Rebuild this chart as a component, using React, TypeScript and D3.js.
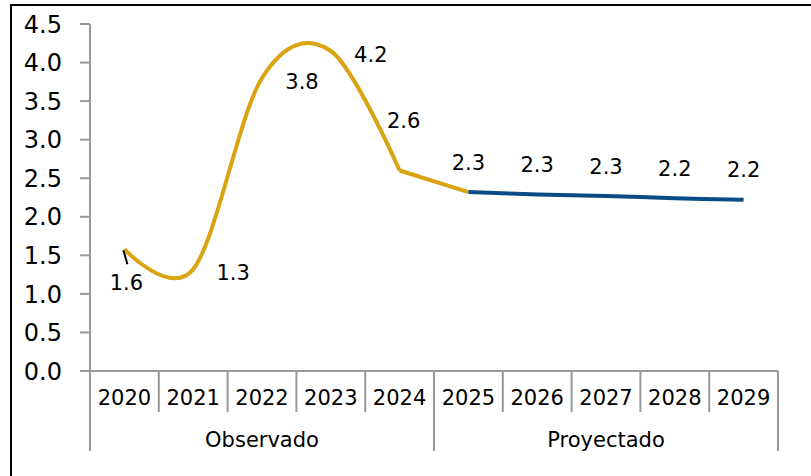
import React from 'react';
import * as d3 from 'd3';

const years = ['2020', '2021', '2022', '2023', '2024', '2025', '2026', '2027', '2028', '2029'];
const values = [1.58, 1.32, 3.8, 4.15, 2.6, 2.32, 2.29, 2.27, 2.24, 2.22];
const groups = [
  { name: 'Observado', from: '2020', to: '2024' },
  { name: 'Proyectado', from: '2025', to: '2029' },
];
// where each data label sits relative to its point
const labelSpots = ['below', 'right', 'right', 'right', 'high', 'above', 'above', 'above', 'above', 'above'];
const yTicks = d3.range(0, 4.51, 0.5);

const W = 811;
const H = 476;
const gold = '#D9A312';
const blue = '#0B4C86';
const grey = '#999999';
const font = '"DejaVu Sans", Verdana, sans-serif';

const App = () => {
  const x = d3.scaleBand().domain(years).range([90, 778]);
  const y = d3.scaleLinear().domain([0, 4.5]).range([371, 24]);
  const cx = (yr: string) => (x(yr) as number) + x.bandwidth() / 2;
  const fmt = d3.format('.1f');

  const pts = years.map((yr, i) => ({ yr, v: values[i] }));
  const line = d3.line<{ yr: string; v: number }>()
    .x(d => cx(d.yr))
    .y(d => y(d.v))
    .curve(d3.curveCardinal.tension(0));
  const straight = d3.line<{ yr: string; v: number }>()
    .x(d => cx(d.yr))
    .y(d => y(d.v));

  const observed = pts.slice(0, 5);
  const bridge = pts.slice(4, 6);
  const projected = pts.slice(5);

  const labelPos = (i: number) => {
    const px = cx(years[i]);
    const py = y(values[i]);
    switch (labelSpots[i]) {
      case 'below': return [px + 2, py + 33];
      case 'right': return [px + 40, py + 3];
      case 'high': return [px + 4, py - 50];
      default: return [px, py - 30];
    }
  };

  const axisBottom = y(0);
  const bandEdges = d3.range(years.length + 1).map(k => 90 + k * x.bandwidth());

  return (
    <svg width={W} height={H} style={{ position: 'fixed', left: 0, top: 0, background: '#fff' }}
      fontFamily={font}>
      <rect x={11} y={5} width={840} height={520} fill="#fff" stroke="#000" strokeWidth={2} />

      {/* y axis */}
      <line x1={90} x2={90} y1={y(4.5)} y2={451} stroke={grey} strokeWidth={2} />
      {yTicks.map(t => (
        <g key={t}>
          <line x1={80} x2={90} y1={y(t)} y2={y(t)} stroke={grey} strokeWidth={2} />
          <text x={62} y={y(t)} dy="0.36em" textAnchor="end" fontSize={24} fill="#000">{fmt(t)}</text>
        </g>
      ))}

      {/* x axis */}
      <line x1={80} x2={778} y1={axisBottom} y2={axisBottom} stroke={grey} strokeWidth={2} />
      {bandEdges.map((e, k) => {
        const major = k === 0 || k === 5 || k === years.length;
        return <line key={k} x1={e} x2={e} y1={axisBottom} y2={major ? 451 : 412} stroke={grey} strokeWidth={2} />;
      })}
      {years.map(yr => (
        <text key={yr} x={cx(yr)} y={397} dy="0.36em" textAnchor="middle" fontSize={21} fill="#000">{yr}</text>
      ))}
      {groups.map(g => {
        const mid = ((x(g.from) as number) + (x(g.to) as number) + x.bandwidth()) / 2;
        return <text key={g.name} x={mid} y={439} dy="0.36em" textAnchor="middle" fontSize={21} fill="#000">{g.name}</text>;
      })}

      {/* lines */}
      <path d={line(observed) || ''} fill="none" stroke={gold} strokeWidth={4} strokeLinejoin="round" />
      <path d={straight(bridge) || ''} fill="none" stroke={gold} strokeWidth={4} strokeLinejoin="round" />
      <path d={line(projected) || ''} fill="none" stroke={blue} strokeWidth={4} strokeLinejoin="round" />

      {/* leader line for the first label */}
      <line x1={cx(years[0]) - 1} y1={y(values[0]) + 1} x2={cx(years[0]) + 3} y2={y(values[0]) + 15}
        stroke="#000" strokeWidth={2} />

      {values.map((v, i) => {
        const [lx, ly] = labelPos(i);
        return <text key={i} x={lx} y={ly} dy="0.36em" textAnchor="middle" fontSize={21} fill="#000">{fmt(v)}</text>;
      })}
    </svg>
  );
};

export default App;
